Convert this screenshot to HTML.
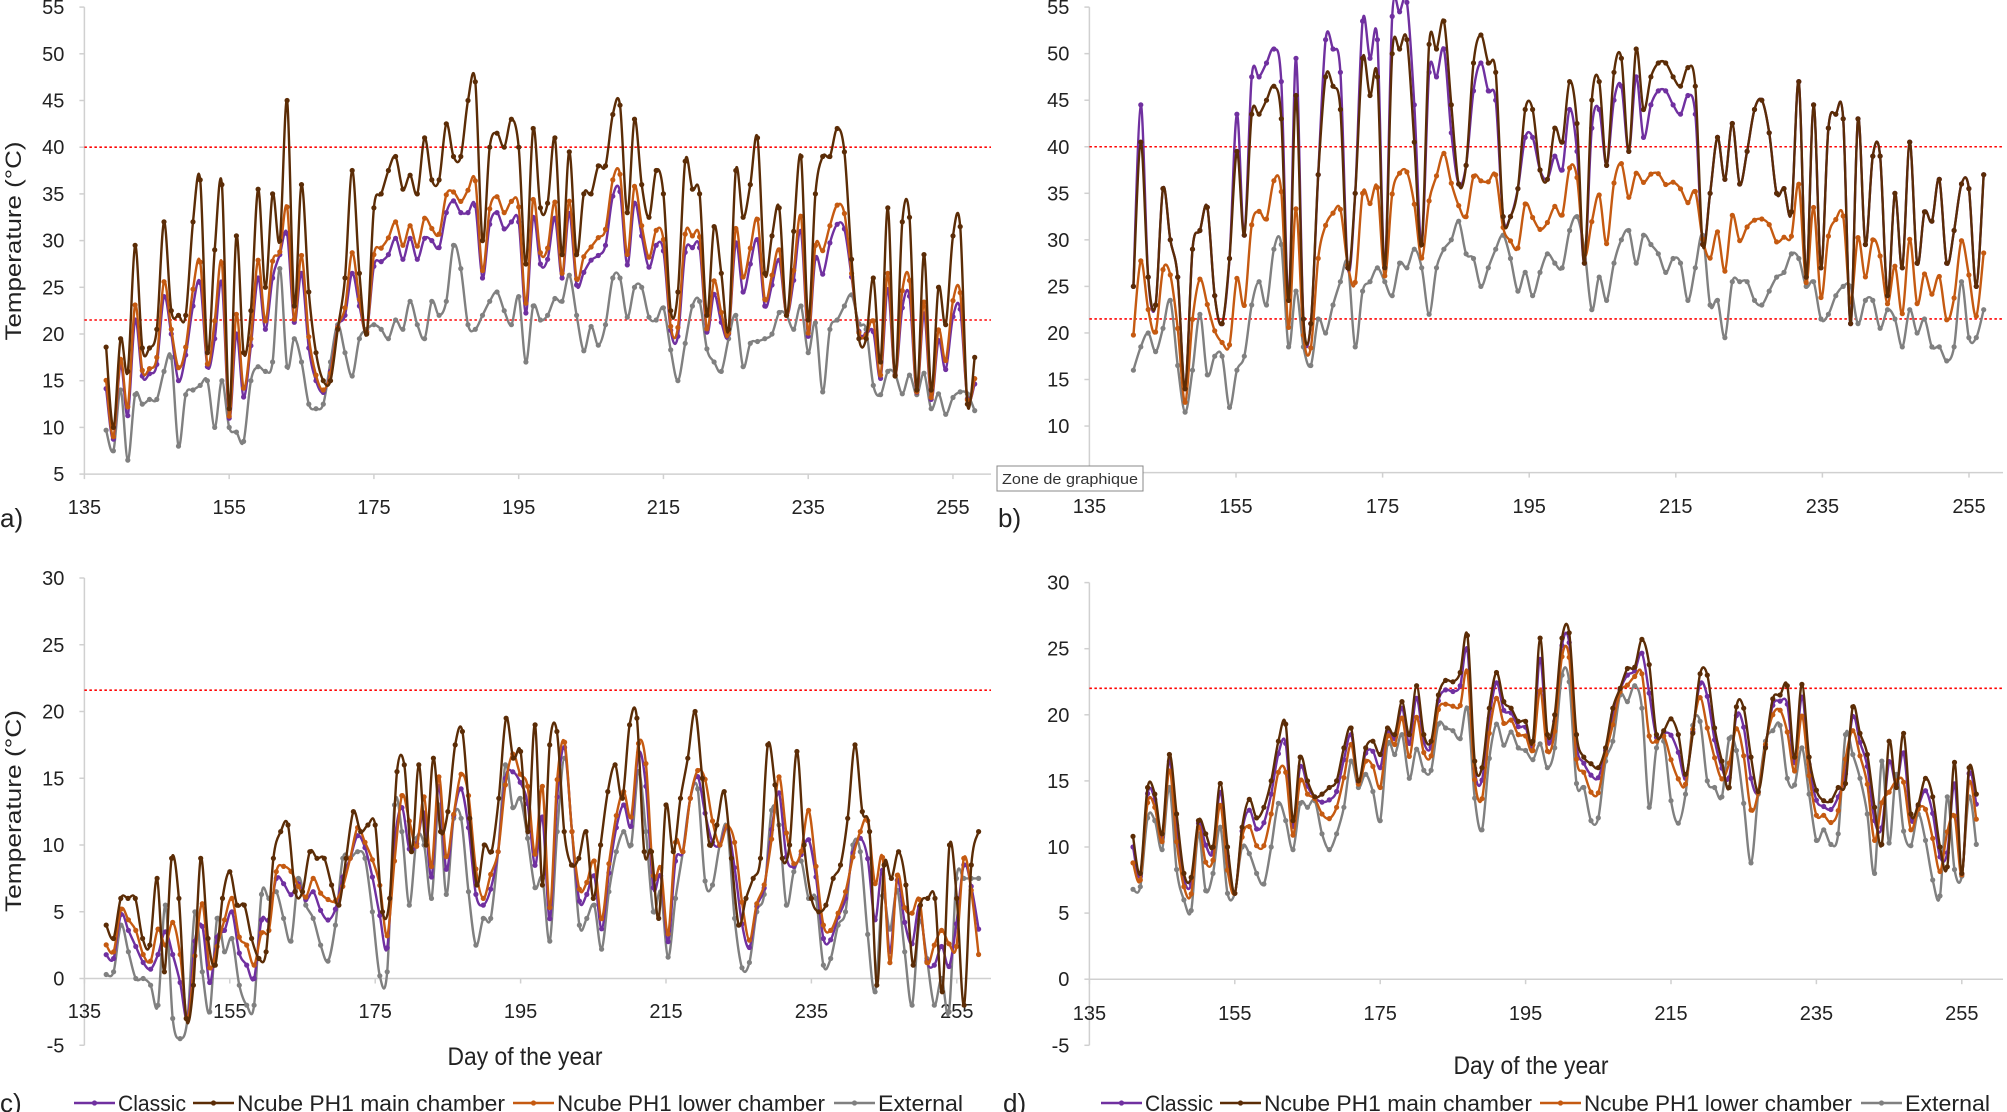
<!DOCTYPE html>
<html><head><meta charset="utf-8"><style>
html,body{margin:0;padding:0;background:#fff;}
svg{display:block;font-family:"Liberation Sans",sans-serif;}
</style></head><body>
<svg id="s" width="2007" height="1112" viewBox="0 0 2007 1112" xmlns="http://www.w3.org/2000/svg"></svg>
<script>
const S=document.getElementById('s');let h='';
const C={p:'#7030A0',b:'#5B2C06',o:'#C55A11',g:'#808080'};
function sm(pts){let d='M'+pts[0][0].toFixed(1)+','+pts[0][1].toFixed(1);for(let i=0;i<pts.length-1;i++){const p0=pts[i-1]||pts[i],p1=pts[i],p2=pts[i+1],p3=pts[i+2]||p2;const c1=[p1[0]+(p2[0]-p0[0])/6,p1[1]+(p2[1]-p0[1])/6],c2=[p2[0]-(p3[0]-p1[0])/6,p2[1]-(p3[1]-p1[1])/6];d+='C'+c1[0].toFixed(1)+','+c1[1].toFixed(1)+' '+c2[0].toFixed(1)+','+c2[1].toFixed(1)+' '+p2[0].toFixed(1)+','+p2[1].toFixed(1);}return d;}
function panel(P){
 const X=d=>P.xl+(d-135)*P.dx,Y=v=>P.yt+(P.vmax-v)*P.dv;
 // y axis
 h+=`<line x1="${P.xl}" y1="${Y(P.vmax)}" x2="${P.xl}" y2="${Y(P.vmin)}" stroke="#d0d0d0" stroke-width="1.5"/>`;
 for(let v=P.vmin;v<=P.vmax;v+=5){h+=`<line x1="${P.xl-5}" y1="${Y(v)}" x2="${P.xl}" y2="${Y(v)}" stroke="#d0d0d0" stroke-width="1.5"/>`;
  h+=`<text x="${P.xl-20}" y="${Y(v)+7}" font-size="20" text-anchor="end" fill="#222">${v}</text>`;}
 const ay=Y(P.axisV);
 h+=`<line x1="${P.xl}" y1="${ay}" x2="${P.xe}" y2="${ay}" stroke="#d0d0d0" stroke-width="1.5"/>`;
 for(let d=135;d<=255;d+=20){h+=`<line x1="${X(d)}" y1="${ay}" x2="${X(d)}" y2="${ay+5}" stroke="#d0d0d0" stroke-width="1.5"/>`;
  h+=`<text x="${X(d)}" y="${P.ly}" font-size="20" text-anchor="middle" fill="#222">${d}</text>`;}
 P.red.forEach(v=>{h+=`<line x1="${P.xl}" y1="${Y(v)}" x2="${P.xe}" y2="${Y(v)}" stroke="#FF0000" stroke-width="1.6" stroke-dasharray="2.5,2.5"/>`;});
 const n=P.g.length;
 const ser={g:P.g,b:P.b,o:P.g.map((g,i)=>g+P.fo*(P.b[i]-g)),p:P.g.map((g,i)=>g+P.fp*(P.b[i]-g)+(P.padj?P.padj(P.d0+i*(P.d1-P.d0)/(n-1),P.b[i]):0))};
 if(P.pover)for(const k in P.pover)ser.p[+k]=P.pover[k];
 ['g','p','o','b'].forEach(k=>{const a=ser[k];const m=a.length;const pts=a.map((v,i)=>[X(P.d0+i*(P.d1-P.d0)/(m-1)),Y(v)]);
  h+=`<path d="${sm(pts)}" fill="none" stroke="${C[k]}" stroke-width="2.4"/>`;
  pts.forEach(q=>h+=`<circle cx="${q[0].toFixed(1)}" cy="${q[1].toFixed(1)}" r="2.6" fill="${C[k]}"/>`);});
}
const ga=[9.7,7.5,14,6.5,13.5,12.5,13,13,16,17.5,8,13.5,14,14.5,15,10,15,10,9.5,8.5,15,16.5,16,17,27,16.5,19.5,17,12.5,12,12.5,17,21,18,15.5,19.5,20.5,21,20.5,19.5,21.5,20.5,23.5,21,19.5,23.5,22,23.5,29.5,27,21,20.5,22,23.5,24.5,22.5,21,24,17,23,21.5,22,23.8,23.5,26.3,22,18.2,20.8,18.8,21,26,26,21.8,25,25,21.8,21.5,22.8,18.3,15,19,23,23.5,18.4,17,16,19.5,22,16.5,19,19.2,19.5,20,22.3,22,20.5,23,18,21.2,13.8,20.5,21.5,23,24.2,21.1,20.5,14.5,13.5,16,15.7,13.6,15.6,13.5,15.8,12,13.6,11.4,13.2,13.8,13.6,11.8];
const ba=[18.6,10,19.5,16,29.5,18.5,18.5,20.5,32,22.5,22,22,32,36.5,18,29,36,12,30.5,18,22.5,35.5,25,35,30,45,23,36,24.5,18,15,15,20.5,26,37.5,26.5,20,33.5,35,37.5,39,35.5,37,35,41,36.5,36.5,42.5,39,39,45,47,30,40,41.5,40,43,40,27.5,42,33.5,34,41,28.5,39.5,28.5,35,35,38,38,43.5,44.5,33,43,36,32.5,37.5,35,22.5,24.5,38.5,35.5,35,22,31.5,26.5,20.5,37.5,32.5,36,41,26.5,30.5,33.5,22,31,39,21.5,35,39,39,42,39.5,28,19.5,19.5,26,17,33.5,15.5,32,32.5,14,28.5,14,25,21,30.5,31.5,12.5,17.5];
panel({xl:84.4,dx:7.238,yt:7.1,vmax:55,vmin:5,dv:9.34,axisV:5,xe:991,ly:514,red:[40,21.5],g:ga.slice(0,ba.length),b:ba,d0:138,d1:258,fo:0.6,fp:0.5});
const bb=[25,40.5,26,23,35.5,30,26,14,29,31,33.5,24,21,28,39.5,30.5,43.5,43.5,45,46.5,43,23.5,45.5,21.5,21,37,47.5,46.5,44,27,35,49.5,45.5,47.5,27,50,50.5,51.5,40.5,29.5,51,50.5,53.5,44.5,36,38,49,52,49,48,32.5,32.5,35.5,44,44,37.5,36.5,42,40.5,47,42.5,27.5,45,47,38,48,49.5,39.5,50.5,44,47.5,49,49,47.5,46.5,48.5,46.5,29.5,35,41,36.5,42.5,36,39.5,44,45,41.5,35,35.5,33,47,26,44.5,27,42,43.5,43,21,43,29.5,39,39,24,35,27,40.5,27.5,33,32,36.5,27.5,31,36,35.5,25,37];
const gb=[16,18.5,20,18,20.5,23.5,16.5,11.5,16,22,15.5,17.5,17.5,12,16,17.5,23,25.5,23,29,29.5,18.5,24.5,18.5,16.5,21.5,20,23,25.5,27.5,18.5,24.5,25.5,27,25.5,24,27.5,27,29,27,22,27,29,30,32,28.5,28,25,27,29,30.5,28,24.5,26.5,24,26.5,28.5,27.5,27,31,32.5,29,22.5,26,23.5,27.5,30,31,27.5,30.5,29.5,28.5,26.5,28,27.5,23.5,27,30.5,23,23.5,19.5,25.5,25.5,25.5,23.5,23,24.5,26,26.5,28.5,28,25,25.5,21.5,22,24,25,25,21,23.5,23.5,20.5,22.5,21.5,18.5,22.5,20,21.5,18.5,18.5,17,18.5,25.5,19.5,19.5,22.5,17];
panel({xl:1089.4,dx:7.33,yt:7.1,vmax:55,vmin:5,dv:9.31,axisV:5,xe:2003,ly:513,red:[40,21.5],g:gb.slice(0,bb.length),b:bb,d0:141,d1:257,fo:0.42,fp:1,padj:(d,b)=>d<180?(b>38?4:0):(d<220?(b>40?-3:0):0)});
const bc=[4,3,6,6,6,3,2.5,7.5,0.5,9,6,-3,-0.5,9,3,1,6,8,5.5,5.5,3,1.5,2,9,11,11.5,6.5,6.5,9.5,9,9,7,5.5,9,12.5,11,11.5,11.5,5,6,15.5,16,9.5,16,10,16.5,11,12.5,17.5,18.5,12,7,10,9.5,13.5,19.5,16.5,17,11,19,7,17.5,18.5,11,8.5,9,11,6,10,14,16,13.5,19,19.5,9.5,9.5,4.5,13,9.5,13.5,16.5,20,15,10,11.5,14,9,4,6,7.5,9,17.5,14.5,9,10,17,10,6,5,5.5,7.5,8.5,12,17.5,12.5,11,-0.5,8.5,7.5,9.5,7,1,5.5,6,6,-1,10,6,-2,8.5,11];
const gc=[0.3,0.5,4,2,0,0,-0.5,-2,5.5,-3,-4.5,-3,5,0.5,-2.5,4.5,2,3,-0.5,-2,-2,6.3,6,6.5,4.5,2.8,7.5,5.5,4.5,2.5,1.3,4,9,9,9.5,9,5,0.2,0.5,13,11,5.5,10.5,10,6,13,6.3,12,12,6.5,2.5,4.5,4.5,9.5,16,12.8,13.5,10.5,6.8,7.5,2.8,11,16.5,11,4,4.5,5.5,2.2,6.5,9.5,11,10,15.5,11,5,6.5,1.6,6,9.5,13.5,14.2,7.3,7,10,11.3,4.5,0.8,1.2,5,6.3,12.6,11.5,5.5,8,8.8,6,6,1,1.5,4,5,10,9.5,3.3,-1,6.2,3.7,6.6,2,-2,4.3,1.5,-2,0,-2.5,7.5,7.5,7.5,7.5];
panel({xl:84.4,dx:7.27,yt:578,vmax:30,vmin:-5,dv:13.35,axisV:0,xe:991,ly:1018,red:[21.6],g:gc.slice(0,bc.length),b:bc,d0:138,d1:258,fo:0.6,fp:0.4});
const bd=[10.8,8,14.5,14,11,17,12.5,8,7.7,12,11,10,14.8,10,6.5,11.5,13.6,12.2,13,15,18,19.3,12,16.8,15,13.8,14,14.5,15,17.5,19,15,17.5,18,17,19,18.5,21,18.5,22.2,18.5,18,21.5,22.6,22.5,23.2,26,16.5,16,20.5,23.2,21,20.5,19.5,19.5,18,25.8,18.5,20,25.8,26.2,18.5,16.8,16.3,16,17.5,20.5,22,23.5,23.6,25.7,23.8,18.5,18.8,19.7,18.5,15.5,18.6,23.1,23,19,16.5,14.5,20.6,20.5,16.8,14.2,17.5,21.2,21.5,22.2,16.8,22.3,16.8,14.3,13.5,13.5,14.5,14.8,20.6,18.6,17,13,10.2,18,14.5,18.6,12.5,13.2,15.2,13.8,10,8.5,16.4,8,16,14];
const gd=[6.8,7,12.2,12,9.8,14.5,8.3,6,5.2,11,6.7,8,11.5,6.5,6.5,10,9.5,8,7.2,10,13.3,12,9.8,13.3,13,13.5,11,9.8,11,13,16.5,14.5,15.5,14.2,12,17.8,17,18.5,15.2,17.4,15.8,15.8,19.3,19,18.8,18.2,20.5,13.7,11.3,16.7,19.3,17.7,18.7,17.5,17.3,16.6,17.8,16,17.5,23,22.5,14.8,14.5,12,12.2,16.5,18,21.5,21,22.2,20.5,13,17.5,18,13.5,11.8,14,19.2,19.5,15,14.5,13.8,18.2,17.3,13.3,8.8,14,18,18.8,19.2,15.2,14.7,17.5,14,10.5,11.3,10.2,11,18.5,17,15.2,12.5,8,16.5,10.3,15.5,11.2,10.1,12.5,10.5,7.5,6.3,13.8,8.3,7.8,13.8,10.2];
panel({xl:1089.4,dx:7.27,yt:582.6,vmax:30,vmin:-5,dv:13.22,axisV:0,xe:2003,ly:1020,red:[22],g:gd.slice(0,bd.length),b:bd,d0:141,d1:257,fo:0.5,fp:0.8});
// labels
h+=`<text transform="translate(21,241) rotate(-90)" font-size="22" text-anchor="middle" fill="#222" textLength="199" lengthAdjust="spacingAndGlyphs">Temperature (°C)</text>`;
h+=`<text transform="translate(21,811) rotate(-90)" font-size="22" text-anchor="middle" fill="#222" textLength="202" lengthAdjust="spacingAndGlyphs">Temperature (°C)</text>`;
h+=`<text x="525" y="1065" font-size="25" text-anchor="middle" fill="#222" textLength="155" lengthAdjust="spacingAndGlyphs">Day of the year</text>`;
h+=`<text x="1531" y="1074" font-size="25" text-anchor="middle" fill="#222" textLength="155" lengthAdjust="spacingAndGlyphs">Day of the year</text>`;
h+=`<text x="0" y="527" font-size="26" fill="#222">a)</text><text x="998" y="527" font-size="26" fill="#222">b)</text>`;
h+=`<text x="0" y="1112" font-size="26" fill="#222">c)</text><text x="1003" y="1112" font-size="26" fill="#222">d)</text>`;
function legend(ox){const it=[['p','Classic',118,68],['b','Ncube PH1  main chamber',237,268],['o','Ncube PH1 lower chamber',557,268],['g','External',878,85]];
 it.forEach(t=>{const lx=ox+t[2]-44;h+=`<line x1="${lx}" y1="1103" x2="${lx+41}" y2="1103" stroke="${C[t[0]]}" stroke-width="2.6"/><circle cx="${lx+20.5}" cy="1103" r="2.6" fill="${C[t[0]]}"/>`;
 h+=`<text x="${ox+t[2]}" y="1111" font-size="22" fill="#222" textLength="${t[3]}" lengthAdjust="spacingAndGlyphs">${t[1]}</text>`;});}
legend(0);legend(1027);
// tooltip
h+=`<rect x="997" y="466" width="146" height="25" fill="#fff" stroke="#888" stroke-width="1"/><text x="1002" y="484" font-size="15" fill="#333" textLength="136" lengthAdjust="spacingAndGlyphs">Zone de graphique</text>`;
S.innerHTML=h;
</script>
</body></html>
